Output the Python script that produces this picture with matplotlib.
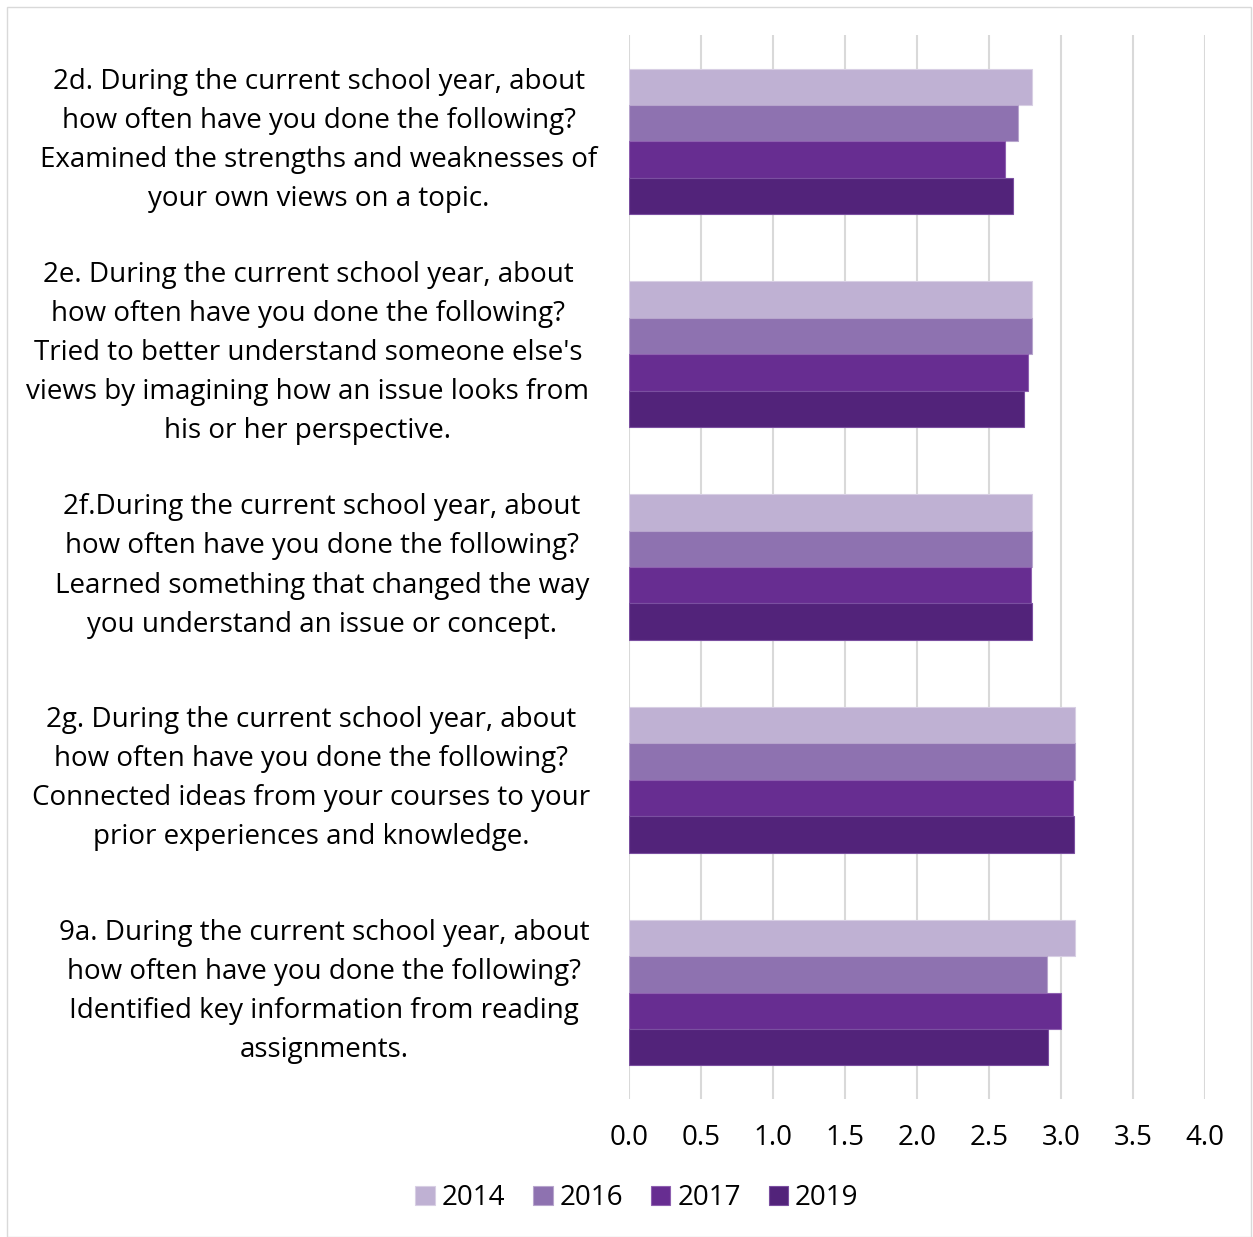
import matplotlib
matplotlib.use("Agg")
import matplotlib.pyplot as plt
import matplotlib.transforms as mtransforms
from matplotlib.patches import Rectangle
import numpy as np

plt.rcParams['font.family'] = ['Open Sans', 'DejaVu Sans']

categories = [
    "2d. During the current school year, about\nhow often have you done the following?\nExamined the strengths and weaknesses of\nyour own views on a topic.",
    "2e. During the current school year, about\nhow often have you done the following?\nTried to better understand someone else's\nviews by imagining how an issue looks from\nhis or her perspective.",
    "2f.During the current school year, about\nhow often have you done the following?\nLearned something that changed the way\nyou understand an issue or concept.",
    "2g. During the current school year, about\nhow often have you done the following?\nConnected ideas from your courses to your\nprior experiences and knowledge.",
    "9a. During the current school year, about\nhow often have you done the following?\nIdentified key information from reading\nassignments.",
]
years = ["2014", "2016", "2017", "2019"]
values_2014 = [2.80, 2.80, 2.80, 3.10, 3.10]
values_2016 = [2.70, 2.80, 2.80, 3.10, 2.90]
values_2017 = [2.61, 2.77, 2.79, 3.08, 3.00]
values_2019 = [2.67, 2.74, 2.80, 3.09, 2.91]
series = [values_2014, values_2016, values_2017, values_2019]
colors = ["#BFB1D3", "#8E72B0", "#672D91", "#52237A"]
edges = ["#D8CFE4", "#B7A5CD", "#8E60B0", "#7A4FA0"]
xticks = [0.0, 0.5, 1.0, 1.5, 2.0, 2.5, 3.0, 3.5, 4.0]

# label block horizontal centres (pixels), layout only
label_centers_px = [319, 308, 322, 311, 324]

W, H = 1253, 1237
fig = plt.figure(figsize=(W / 100, H / 100), dpi=100)
fig.patch.set_facecolor("white")
fig.add_artist(Rectangle((7 / W, 0), 1 - 7 / W - 2 / W, 1 - 7 / H, transform=fig.transFigure,
                         fill=False, edgecolor="#D9D9D9", linewidth=1))

ax = fig.add_axes([629 / W, 1 - 1099 / H, (1205 - 629) / W, (1099 - 35) / H])
n = len(categories)
bh = 0.171
for j, (vals, c, e) in enumerate(zip(series, colors, edges)):
    y = np.arange(n) + (j - 1.5) * bh
    ax.barh(y, vals, height=bh, color=c, edgecolor=e, linewidth=0.8, label=years[j], zorder=3)

ax.set_ylim(n - 0.5, -0.5)
ax.set_xlim(0, 4.0)
ax.set_xticks(xticks)
ax.set_xticklabels([f"{t:.1f}" for t in xticks], fontsize=20, color="#000000")
ax.tick_params(axis='x', length=0, pad=18)
ax.set_yticks([])
ax.grid(axis='x', color="#D9D9D9", linewidth=1.5, zorder=0)
for s in ax.spines.values():
    s.set_visible(False)

trans = mtransforms.blended_transform_factory(fig.transFigure, ax.transData)
for i, lab in enumerate(categories):
    ax.text(label_centers_px[i] / W, i - 0.005, lab, transform=trans, ha='center', va='center',
            multialignment='center', fontsize=20, linespacing=1.53, color="#000000")

leg = fig.legend(loc='center', bbox_to_anchor=(637 / W, 1 - 1198 / H), ncol=4, frameon=False,
                 fontsize=20, handlelength=0.7, handleheight=0.7, handletextpad=0.25,
                 columnspacing=1.0)

fig.savefig("out.png", dpi=100, facecolor="white")
